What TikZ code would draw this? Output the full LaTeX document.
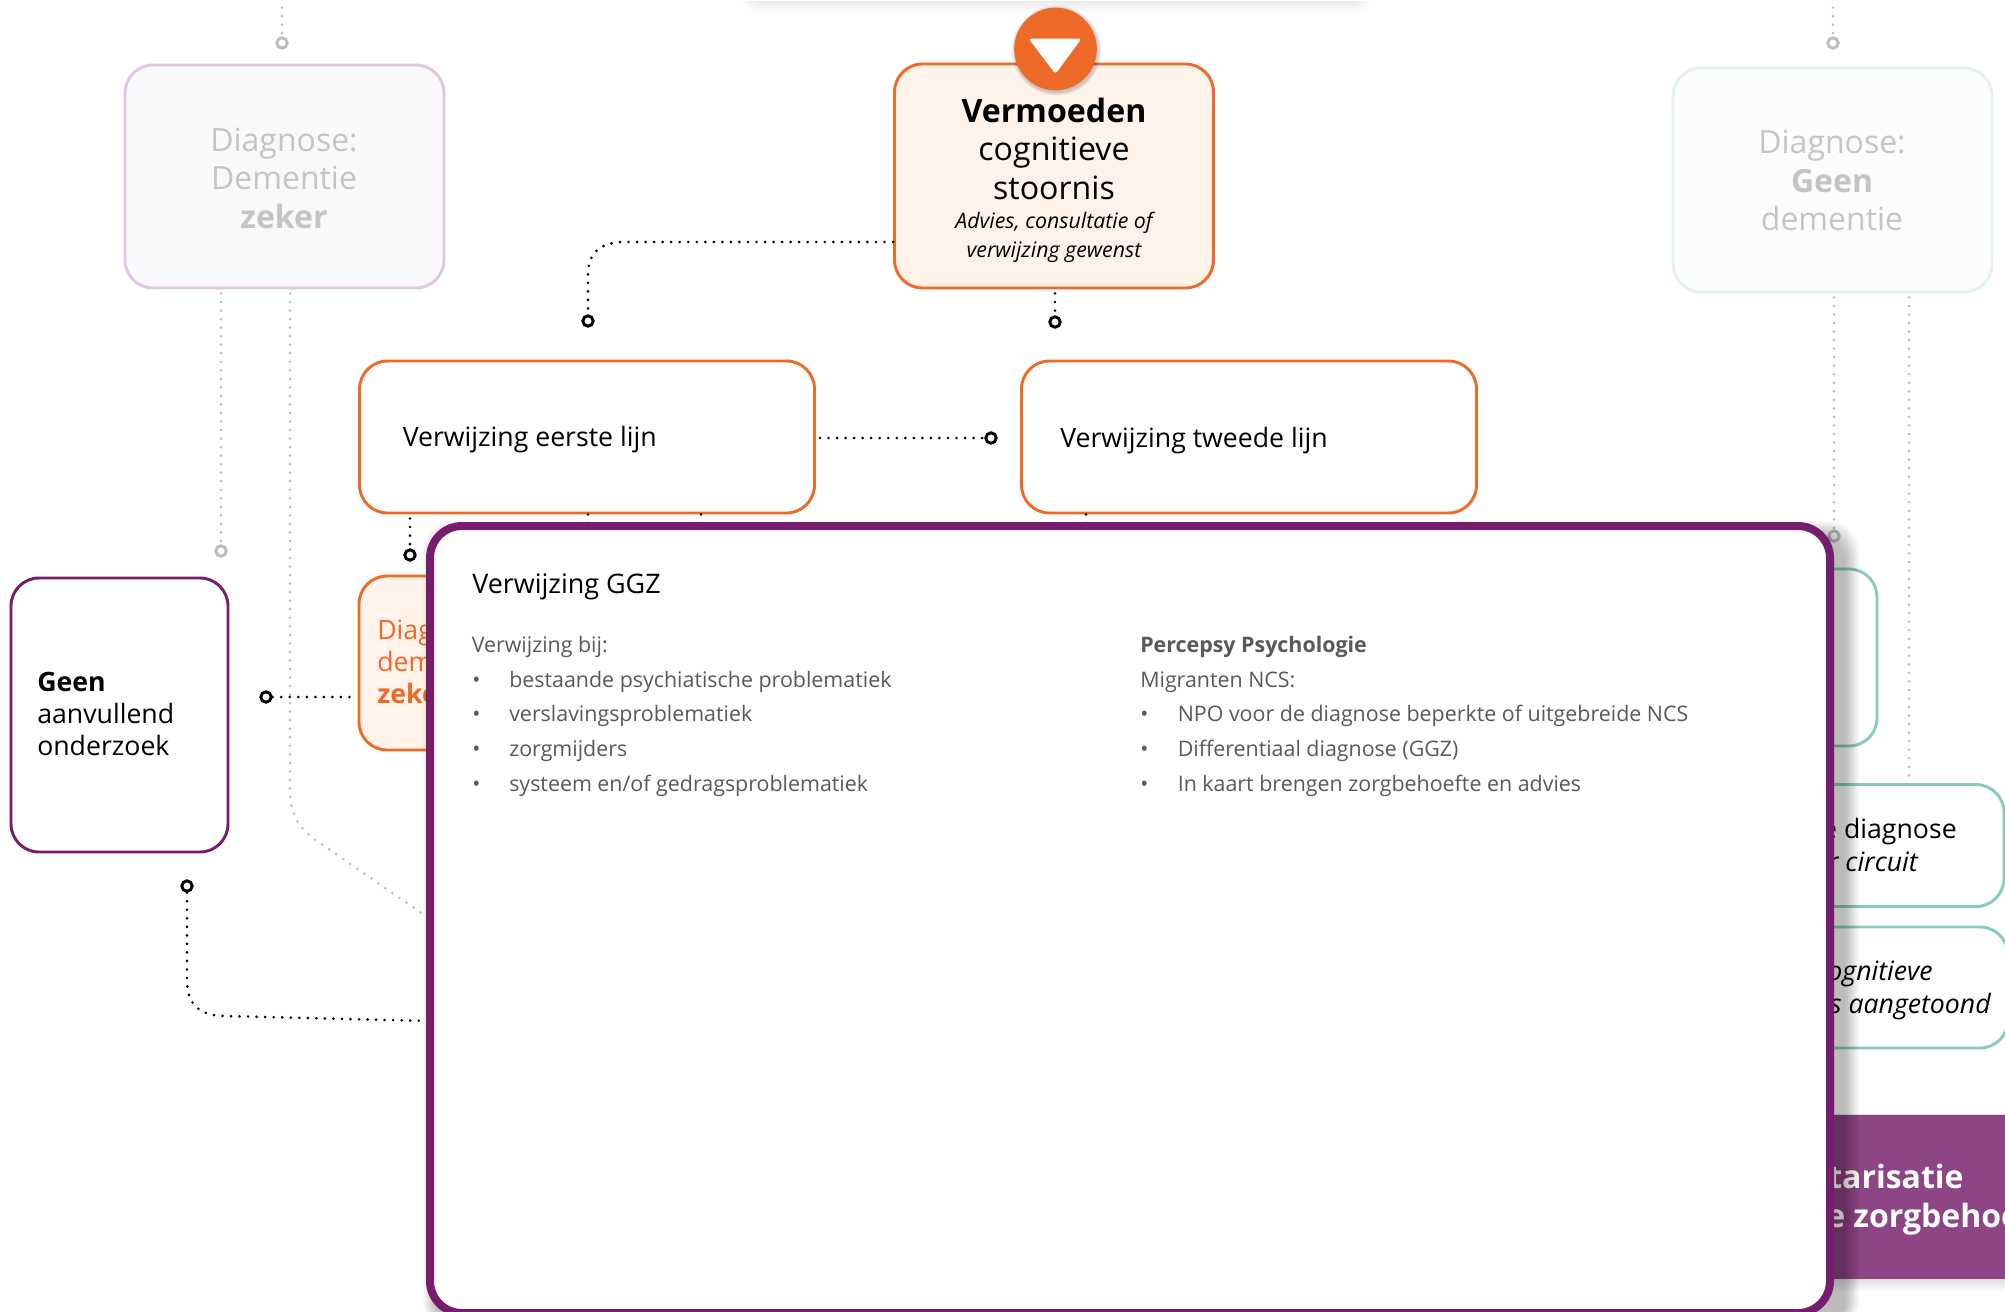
\documentclass[tikz,border=0pt]{standalone}
\usepackage{fontspec}
\setmainfont{Open Sans}
\usetikzlibrary{calc}
\definecolor{oran}{HTML}{EE6A28}
\definecolor{oranl}{HTML}{FEF2E9}
\definecolor{purp}{HTML}{761D6E}
\definecolor{purpb}{HTML}{8E4585}
\definecolor{teal1}{HTML}{8ACDB7}
\definecolor{gtxt}{HTML}{C4C4C4}
\definecolor{gdot}{HTML}{BDBDBD}
\definecolor{ptxt}{HTML}{595959}
\definecolor{dembd}{HTML}{DFC8DE}
\definecolor{demfl}{HTML}{F9F8FB}
\definecolor{gdmbd}{HTML}{E3F1EC}
\definecolor{gdmfl}{HTML}{FBFDFD}
\newcommand{\fs}[1]{\fontsize{#1}{#1}\selectfont}
\tikzset{
  x=0.75pt,y=-0.75pt,
  box/.style 2 args={draw,rectangle,rounded corners=21pt,line width=2.2pt,inner sep=0pt,minimum width=#1*0.75pt,minimum height=#2*0.75pt},
  dots/.style={line width=2.2pt,line cap=round,dash pattern=on 0pt off 6.4pt,black},
  gdots/.style={dots,gdot},
  ring/.style={draw=black,fill=white,circle,line width=2.2pt,inner sep=0pt,minimum size=7.8pt},
  gring/.style={ring,draw=gdot},
  tl/.style={inner sep=0pt,anchor=base west},
  tc/.style={inner sep=0pt,anchor=base},
  tr/.style={inner sep=0pt,anchor=base east},
  big/.style={font=\fs{24}},
  midf/.style={font=\fs{20}},
  body/.style={font=\fs{16.05},text=ptxt},
}
\begin{document}
\begin{tikzpicture}
\useasboundingbox (0,0) rectangle (2005,1311);
\fill[white] (0,0) rectangle (2005,1311);
% shadow of the box above the page
\foreach \i in {1,...,10}{\fill[black,opacity=.009,rounded corners=12pt] ({747-\i*.5},-60) rectangle ({1366+\i*.5},{1+\i*1.2});}
\fill[white] (745,-60) rectangle (1368,1);
% boxes
\node[box={319}{223},draw=dembd,fill=demfl] (dem) at (284.5,176.5) {};
\node[box={319}{224},draw=oran,fill=oranl] (verm) at (1054,176) {};
\node[box={319}{224},draw=gdmbd,fill=gdmfl] (gdem) at (1832.5,180) {};
\node[box={455}{152},draw=oran,fill=white] (eerste) at (587,437) {};
\node[box={455}{152},draw=oran,fill=white] (tweede) at (1249,437) {};
\node[box={217}{274},draw=purp,fill=white] (geen) at (119.5,715) {};
\node[box={262}{174},draw=oran,fill=oranl] (diag) at (490,663) {};
\node[box={227}{177},draw=teal1,fill=white] (teala) at (1763.5,657.5) {};
\node[box={304}{122},draw=teal1,fill=white] (tealb) at (1852,845.5) {};
\node[box={308}{121},draw=teal1,fill=white] (tealc) at (1854,987.5) {};
\foreach \i in {1,...,8}{\fill[black,opacity=.014] (1700,1114) rectangle (2010,{1279+\i*1.5});}
\node[rectangle,fill=purpb,inner sep=0pt,minimum width=300pt,minimum height=123pt] (bar) at (1900,1196.6) {};
% rings
\node[gring] (r1) at (282,43) {};
\node[gring] (r2) at (1833,43) {};
\node[gring] (r3) at (221,551) {};
\node[gring] (r4) at (1834,536) {};
\node[ring] (r5) at (588,321) {};
\node[ring] (r6) at (1055,322) {};
\node[ring] (r7) at (991,438) {};
\node[ring] (r8) at (410,555) {};
\node[ring] (r9) at (266,697) {};
\node[ring] (r10) at (187,886) {};
% free ends
\coordinate (t1) at (282,-1);
\coordinate (t2) at (1833,-1);
\coordinate (t3) at (1055,-1);
\coordinate (e1) at (430,919);
\coordinate (e2) at (430,1021);
\coordinate (x1) at (290,300);
\coordinate (x2) at (1909,300);
\coordinate (s1) at (588,540);
\coordinate (s2) at (701,540);
\coordinate (s3) at (1086,540);
% grey connectors
\draw[gdots] (t1) -- (r1);
\draw[gdots] (t2) -- (r2);
\draw[gdots] (r3 |- dem.south) ++(0,4) -- (r3.north);
\draw[gdots] (r4 |- gdem.south) ++(0,4) -- (r4.north);
\draw[gdots] (x1 |- dem.south) ++(0,4) -- (290,790) .. controls (290,815) and (300,830) .. (320,843) -- (e1);
\draw[gdots] (x2 |- gdem.south) ++(0,4) -- (x2 |- tealb.north);
% black connectors
\draw[dots] (t3) -- (1055,5);
\draw[dots] (verm.west |- 0,242) -- (625,242) .. controls (600,242) and (588,253) .. (588,275) -- (r5.north);
\draw[dots] (r6 |- verm.south) ++(0,4) -- (r6.north);
\draw[dots] (r7 -| eerste.east) ++(4,0) -- (r7.west);
\draw[dots] (r8 |- eerste.south) ++(0,4) -- (r8.north);
\draw[dots] (r9.east) -- (r9 -| diag.west);
\draw[dots] (r10.south) -- (187,980) .. controls (187,1005) and (200,1016) .. (225,1016) -- (e2);
\draw[dots] (s1 |- eerste.south) -- (s1);
\draw[dots] (s2 |- eerste.south) -- (s2);
\draw[dots] (s3 |- tweede.south) -- (s3);
% circle with triangle
\foreach \i in {1,...,4}{\fill[black,opacity=.05] (1056.5,50.5) circle[radius={41+\i}];}
\node[circle,fill=oran,inner sep=0pt,minimum size=62pt] (cc) at (1055.5,49) {};
\fill[white,rounded corners=2.2pt] (1028.5,38.5) -- (1081.5,38.5) -- (1055.5,74) -- cycle;
% texts
\node[tc,big,text=gtxt] (d1) at (284,151) {Diagnose:};
\node[tc,big,text=gtxt] (d2) at (284,189) {Dementie};
\node[tc,big,text=gtxt] (d3) at (284,228) {\bfseries zeker};
\node[tc,big,text=gtxt] (g1) at (1832,153) {Diagnose:};
\node[tc,big,text=gtxt] (g2) at (1832,192) {\bfseries Geen};
\node[tc,big,text=gtxt] (g3) at (1832,230) {dementie};
\node[tc,font=\fs{24.1}] (v1) at (1054,122) {\bfseries Vermoeden};
\node[tc,font=\fs{24.1}] (v2) at (1054,160) {cognitieve};
\node[tc,font=\fs{24.1}] (v3) at (1054,199) {stoornis};
\node[tc,font=\fs{16}] (v4) at (1054,228) {\itshape Advies, consultatie of};
\node[tc,font=\fs{16}] (v5) at (1054,257) {\itshape verwijzing gewenst};
\node[tl,midf] (e) at (402.5,446) {Verwijzing eerste lijn};
\node[tl,midf] (w) at (1060,447) {Verwijzing tweede lijn};
\node[tl,midf] (a1) at (37,691) {\bfseries Geen};
\node[tl,midf] (a2) at (37,723) {aanvullend};
\node[tl,midf] (a3) at (37,755) {onderzoek};
\node[tl,midf,text=oran] (o1) at (377,639) {Diagnose:};
\node[tl,midf,text=oran] (o2) at (377,671) {dementie};
\node[tl,midf,text=oran] (o3) at (377,703) {\bfseries zeker};
\node[tr,midf] (q1) at (1957,838) {e diagnose};
\node[tr,midf] (q2) at (1918,871) {\itshape r circuit};
\node[tr,midf] (q3) at (1933,980) {\itshape ognitieve};
\node[tr,midf] (q4) at (1991,1013) {\itshape s aangetoond};
\node[tl,font=\fs{24},text=white] (b1) at (1828,1188) {\bfseries tarisatie};
\node[tl,font=\fs{24},text=white] (b2) at (1826,1227) {\bfseries e zorgbehoe};
% panel
\foreach \i in {1,...,12}{\fill[black,opacity=.024,rounded corners=22pt] ({426+12-\i*1.25},{522+14-\i*1.25}) rectangle ({1834+10+\i*1.25},1330);}
\node[box={1400}{787},draw=purp,fill=white,line width=6pt,rounded corners=24pt] (panel) at (1130,919.5) {};
\node[tl,font=\fs{20.2}] (p0) at (472,593) {Verwijzing GGZ};
\node[tl,body] (p1) at (471.5,652) {Verwijzing bij:};
\foreach \n/\yy/\ttxt in {a/687/{bestaande psychiatische problematiek},b/721/{verslavingsproblematiek},c/756/{zorgmijders},d/791/{systeem en/of gedragsproblematiek}}{
  \node[tl,body] (bl\n) at (472,\yy) {•};
  \node[tl,body] (it\n) at (509,\yy) {\ttxt};
}
\node[tl,body] (m1) at (1140,652) {\bfseries Percepsy Psychologie};
\node[tl,body] (m2) at (1140,687) {Migranten NCS:};
\foreach \n/\yy/\ttxt in {a/721/{NPO voor de diagnose beperkte of uitgebreide NCS},b/756/{Differentiaal diagnose (GGZ)},c/791/{In kaart brengen zorgbehoefte en advies}}{
  \node[tl,body] (mb\n) at (1140,\yy) {•};
  \node[tl,body] (mi\n) at (1177.5,\yy) {\ttxt};
}
\end{tikzpicture}
\end{document}
